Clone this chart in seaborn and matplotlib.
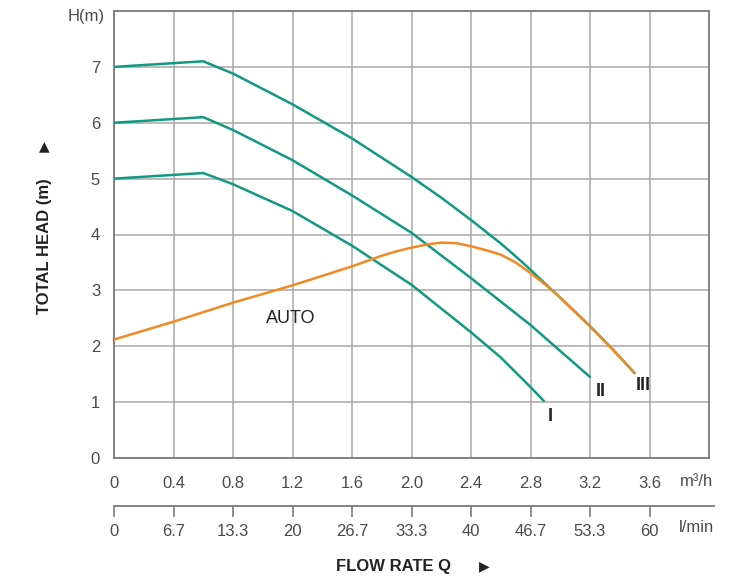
import matplotlib
matplotlib.use("Agg")
import matplotlib.pyplot as plt
import seaborn as sns
import pandas as pd

# ---- data (flow in m3/h, head in m) ----
q_ticks = [0, 0.4, 0.8, 1.2, 1.6, 2.0, 2.4, 2.8, 3.2, 3.6]
q_tick_labels = ["0", "0.4", "0.8", "1.2", "1.6", "2.0", "2.4", "2.8", "3.2", "3.6"]
lmin_tick_labels = ["0", "6.7", "13.3", "20", "26.7", "33.3", "40", "46.7", "53.3", "60"]
h_ticks = [0, 1, 2, 3, 4, 5, 6, 7]

q_I = [0, 0.6, 0.8, 1.2, 1.6, 2.0, 2.4, 2.6, 2.8, 2.89]
h_I = [5.0, 5.1, 4.9, 4.42, 3.8, 3.1, 2.25, 1.8, 1.27, 1.02]

q_II = [0, 0.6, 0.8, 1.2, 1.6, 2.0, 2.4, 2.8, 3.2]
h_II = [6.0, 6.1, 5.87, 5.33, 4.7, 4.03, 3.22, 2.38, 1.45]

q_III = [0, 0.6, 0.8, 1.2, 1.6, 2.0, 2.2, 2.4, 2.6, 2.7, 2.8, 2.93, 3.0, 3.2, 3.35, 3.5]
h_III = [7.0, 7.1, 6.88, 6.33, 5.72, 5.03, 4.66, 4.26, 3.84, 3.61, 3.37, 3.04, 2.87, 2.36, 1.95, 1.52]

q_auto = [0, 0.4, 0.8, 1.2, 1.6, 1.8, 1.9, 2.0, 2.1, 2.2, 2.3, 2.4, 2.5, 2.6, 2.7, 2.8, 2.93, 3.0, 3.2, 3.35, 3.5]
h_auto = [2.12, 2.44, 2.78, 3.09, 3.43, 3.62, 3.70, 3.765, 3.82, 3.855, 3.845, 3.79, 3.72, 3.64, 3.5, 3.31, 3.04, 2.87, 2.36, 1.95, 1.52]

curve_labels = ["I", "II", "III"]

# ---- style ----
sns.set_style("white")
plt.rcParams["font.family"] = ["Liberation Sans", "DejaVu Sans"]

GREEN = "#119a80"
ORANGE = "#f08a24"
GRID = "#a8a8a8"
SPINE = "#7a7a7a"
TICKC = "#4a4a4a"

W, H = 752, 581
fig = plt.figure(figsize=(W / 100, H / 100), dpi=100)

left_px, right_px, top_px, bot_px = 114, 709, 11, 458
ax = fig.add_axes([left_px / W, 1 - bot_px / H, (right_px - left_px) / W, (bot_px - top_px) / H])

frames = {
    "I": pd.DataFrame({"q": q_I, "h": h_I}),
    "II": pd.DataFrame({"q": q_II, "h": h_II}),
    "III": pd.DataFrame({"q": q_III, "h": h_III}),
}
for name in curve_labels:
    sns.lineplot(data=frames[name], x="q", y="h", ax=ax, color=GREEN, lw=1.8,
                 sort=False, estimator=None, zorder=3)
auto_df = pd.DataFrame({"q": q_auto, "h": h_auto})
sns.lineplot(data=auto_df, x="q", y="h", ax=ax, color=ORANGE, lw=1.8,
             sort=False, estimator=None, zorder=4)

ax.set_xlim(0, 4.0)
ax.set_ylim(0, 8.0)
ax.set_xticks(q_ticks)
ax.set_xticklabels(q_tick_labels)
ax.set_yticks(h_ticks)
ax.set_xlabel("")
ax.set_ylabel("")
ax.grid(True, color=GRID, lw=1.1)
ax.set_axisbelow(True)
for s in ax.spines.values():
    s.set_visible(True)
    s.set_color(SPINE)
    s.set_linewidth(1.3)
ax.tick_params(axis="x", length=0, pad=13, labelsize=12, labelcolor=TICKC)
ax.tick_params(axis="y", length=0, pad=10, labelsize=12, labelcolor=TICKC)

# curve labels
ax.text(2.93, 0.75, "I", fontsize=13, fontweight="bold", color="#222222", ha="center", va="center")
ax.text(3.27, 1.19, "II", fontsize=13, fontweight="bold", color="#222222", ha="center", va="center")
ax.text(3.56, 1.29, "III", fontsize=13, fontweight="bold", color="#222222", ha="center", va="center")
ax.text(1.19, 2.5, "AUTO", fontsize=13, color="#222222", ha="center", va="center")

# secondary flow axis (l/min)
ax2_left, ax2_right, ax2_y = 114, 714, 506
span_units = (ax2_right - ax2_left) / ((right_px - left_px) / 4.0)
ax2 = fig.add_axes([ax2_left / W, 1 - ax2_y / H, (ax2_right - ax2_left) / W, 0.0001])
ax2.set_xlim(0, span_units)
ax2.set_ylim(0, 1)
ax2.set_xticks(q_ticks)
ax2.set_xticklabels(lmin_tick_labels)
ax2.set_yticks([])
for k in ["top", "left", "right"]:
    ax2.spines[k].set_visible(False)
ax2.spines["bottom"].set_color(SPINE)
ax2.spines["bottom"].set_linewidth(1.3)
ax2.tick_params(axis="x", bottom=True, direction="out", length=8, width=1.2, color=SPINE,
                pad=5, labelsize=12, labelcolor=TICKC)
ax2.patch.set_visible(False)

# units and axis titles
fig.text(697 / W, 1 - 481 / H, "m³/h", fontsize=12, color=TICKC, ha="center", va="center")
fig.text(697 / W, 1 - 527 / H, "l/min", fontsize=12, color=TICKC, ha="center", va="center")
fig.text(86 / W, 1 - 16 / H, "H(m)", fontsize=12, color=TICKC, ha="center", va="center")
fig.text(45 / W, 1 - 246 / H, "TOTAL HEAD (m)", fontsize=12, color="#222222", rotation=90,
         ha="center", va="center", fontweight="bold")
fig.text(44 / W, 1 - 146 / H, "▲", fontsize=10, color="#222222", ha="center", va="center",
         family=["DejaVu Sans"])
fig.text(393 / W, 1 - 567 / H, "FLOW RATE Q", fontsize=12, color="#222222",
         ha="center", va="center", fontweight="bold")
fig.text(484 / W, 1 - 566 / H, "▶", fontsize=10, color="#222222", ha="center", va="center",
         family=["DejaVu Sans"])

fig.savefig("out.png", dpi=100)
